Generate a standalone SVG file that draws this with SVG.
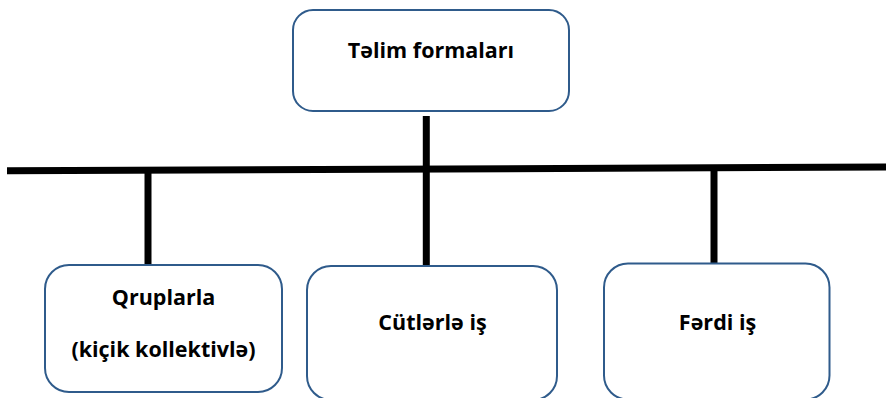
<svg xmlns="http://www.w3.org/2000/svg" width="886" height="398" viewBox="0 0 886 398">
<style>
.box{fill:#fff;stroke:#2f5b8b;stroke-width:2}
.lbl{font-family:"Open Sans","Noto Sans",sans-serif;font-weight:700;font-size:21.5px;fill:#000;text-anchor:middle}
.ln{stroke:#000;fill:none}
</style>
<rect width="886" height="398" fill="#fff"/>
<g id="connectors">
<line class="ln" x1="7" y1="170.8" x2="886" y2="167" stroke-width="7"/>
<line class="ln" x1="426.3" y1="116" x2="426.3" y2="266" stroke-width="7"/>
<line class="ln" x1="148" y1="170" x2="148" y2="265" stroke-width="7"/>
<line class="ln" x1="714" y1="167" x2="714" y2="264" stroke-width="7"/>
</g>
<g id="n-top">
<rect class="box" x="293" y="10" width="276" height="101" rx="20"/>
<text class="lbl" x="431" y="58">Təlim formaları</text>
</g>
<g id="n-qrup">
<rect class="box" x="45" y="265" width="237" height="127" rx="24"/>
<text class="lbl" x="163.5" y="305">Qruplarla</text>
<text class="lbl" x="163.5" y="357">(kiçik kollektivlə)</text>
</g>
<g id="n-cut">
<rect class="box" x="307" y="266" width="250" height="134" rx="24"/>
<text class="lbl" x="432.5" y="330">Cütlərlə iş</text>
</g>
<g id="n-ferdi">
<rect class="box" x="604" y="263.5" width="225.5" height="136" rx="24"/>
<text class="lbl" x="717.5" y="330">Fərdi iş</text>
</g>
</svg>
